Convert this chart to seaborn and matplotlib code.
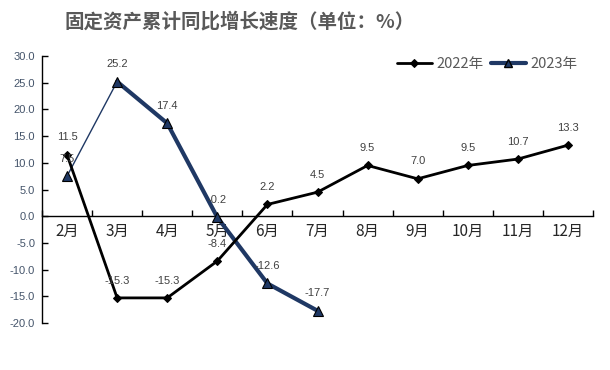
import matplotlib
matplotlib.use("Agg")
import matplotlib.pyplot as plt
import seaborn as sns
import pandas as pd
import numpy as np

months = ["2月", "3月", "4月", "5月", "6月", "7月", "8月", "9月", "10月", "11月", "12月"]
v2022 = [11.5, -15.3, -15.3, -8.4, 2.2, 4.5, 9.5, 7.0, 9.5, 10.7, 13.3]
v2023 = [7.5, 25.2, 17.4, -0.2, -12.6, -17.7]
yticks = [30.0, 25.0, 20.0, 15.0, 10.0, 5.0, 0.0, -5.0, -10.0, -15.0, -20.0]
title = "固定资产累计同比增长速度（单位：%）"

sns.set_theme(style="white")
plt.rcParams['font.family'] = ['Noto Sans CJK SC', 'DejaVu Sans']
numfont = ['Liberation Sans', 'DejaVu Sans']

df22 = pd.DataFrame({"x": np.arange(len(v2022)), "y": v2022})
df23 = pd.DataFrame({"x": np.arange(len(v2023)), "y": v2023})

fig = plt.figure(figsize=(6.1, 3.7), dpi=100)
ax = fig.add_axes([42/610, 47/370, 551/610, 267/370])

navy = "#1F3864"
sns.lineplot(data=df22, x="x", y="y", ax=ax, color="black", lw=2, marker="D",
             markersize=4.5, markeredgecolor="black", label="2022年", zorder=4)
# first 2023 segment drawn thin as in reference
sns.lineplot(data=df23.iloc[:2], x="x", y="y", ax=ax, color=navy, lw=1, zorder=3, legend=False)
sns.lineplot(data=df23.iloc[1:], x="x", y="y", ax=ax, color=navy, lw=3, zorder=3, legend=False)
ax.plot(df23["x"], df23["y"], ls="none", marker="^", markersize=7, color=navy,
        markeredgecolor="black", markeredgewidth=0.8, zorder=5)
# legend handle for 2023
ax.plot([], [], color=navy, lw=3, marker="^", markersize=6, markeredgecolor="black",
        label="2023年")

for i, v in enumerate(v2022):
    ax.annotate(f"{v:.1f}", (i, v), xytext=(0, 12.5), textcoords="offset points",
                ha="center", va="center", fontsize=8, color="#404040", zorder=6,
                family=numfont)
for i, v in enumerate(v2023):
    ax.annotate(f"{v:.1f}", (i, v), xytext=(0, 12.5), textcoords="offset points",
                ha="center", va="center", fontsize=8, color="#404040", zorder=6,
                family=numfont)

ax.set_xlim(-0.5, len(months) - 0.5)
ax.set_ylim(-20, 30)
ax.set_yticks(yticks)
ax.set_yticklabels([f"{t:.1f}" for t in yticks], fontsize=8, color="#44546A", family=numfont)
ax.set_xticks(np.arange(len(months)))
ax.set_xticklabels(months, fontsize=7.5, color="#44546A")
ax.set_xticks(np.arange(len(months) + 1) - 0.5, minor=True)
ax.tick_params(axis="x", which="major", length=0, pad=5)
ax.tick_params(axis="x", which="minor", length=4, direction="in", color="black", width=1, bottom=True)
ax.tick_params(axis="y", length=4, direction="in", color="black", width=1, left=True, pad=5)

ax.set_xlabel("")
ax.set_ylabel("")
for s in ["top", "right"]:
    ax.spines[s].set_visible(False)
ax.spines["bottom"].set_position(("data", 0))
ax.spines["bottom"].set_color("black")
ax.spines["bottom"].set_linewidth(1)
ax.spines["left"].set_color("black")
ax.spines["left"].set_linewidth(1)
ax.grid(False)

leg = ax.legend(loc="upper right", bbox_to_anchor=(0.995, 1.045), ncol=2, frameon=False,
                fontsize=10.5, handlelength=2.4, columnspacing=0.5, handletextpad=0.3)
for t in leg.get_texts():
    t.set_color("#595959")

fig.text(240/610, 1 - 22/370, title, ha="center", va="center", fontsize=14,
         fontweight="bold", color="#595959")

fig.savefig("out.png", dpi=100)
